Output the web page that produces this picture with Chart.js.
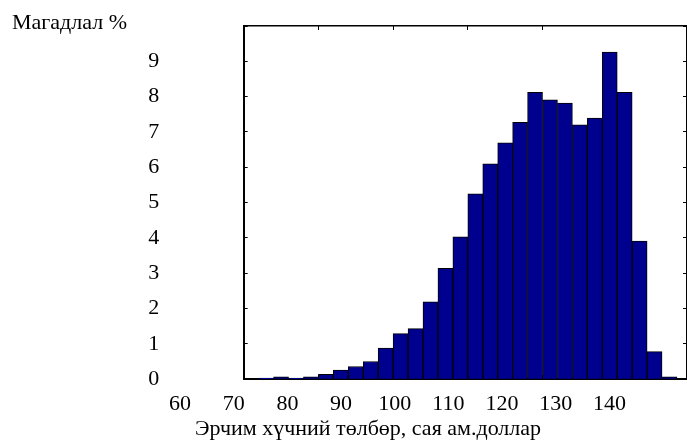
<!DOCTYPE html>
<html>
<head>
<meta charset="utf-8">
<script src="https://cdn.jsdelivr.net/npm/chart.js@4/dist/chart.umd.min.js"></script>
<style>
  html, body { margin: 0; padding: 0; background: #fff; }
  canvas { display: block; }
</style>
</head>
<body>
<canvas id="c" width="687" height="447"></canvas>
<script>
// ---- data ----
const binCenters = [1.5, 2.5, 3.5, 4.5, 5.5, 6.5, 7.5, 8.5, 9.5, 10.5, 11.5, 12.5, 13.5, 14.5,
                    15.5, 16.5, 17.5, 18.5, 19.5, 20.5, 21.5, 22.5, 23.5, 24.5, 25.5, 26.5, 27.5, 28.5];
const probability = [0.03, 0.07, 0.03, 0.07, 0.14, 0.26, 0.36, 0.50, 0.88, 1.29, 1.43, 2.19, 3.14, 4.03,
                     5.25, 6.10, 6.69, 7.27, 8.12, 7.91, 7.82, 7.20, 7.39, 9.26, 8.12, 3.91, 0.78, 0.07];
const xTickLabels = [60, 70, 80, 90, 100, 110, 120, 130, 140];
const yTickLabels = ['0', '1', '2', '3', '4', '5', '6', '7', '8', '9'];
const yAxisLabel = 'Магадлал %';
const xAxisLabel = 'Эрчим хүчний төлбөр, сая ам.доллар';

Chart.defaults.font.family = "'Liberation Serif', 'Times New Roman', serif";
Chart.defaults.font.size = 22;
Chart.defaults.color = '#000';

const inwardGrid = { drawOnChartArea: false, drawTicks: true, tickLength: -4, tickColor: '#000', tickWidth: 1, offset: false };

new Chart(document.getElementById('c'), {
  type: 'bar',
  data: {
    datasets: [{
      data: binCenters.map((x, i) => ({ x: x, y: probability[i] })),
      backgroundColor: '#00008F',
      borderColor: '#000',
      borderWidth: 1,
      barPercentage: 1,
      categoryPercentage: 1,
      xAxisID: 'x',
      yAxisID: 'y'
    }]
  },
  options: {
    responsive: false,
    animation: false,
    layout: { padding: { left: 12, right: -37, top: 0, bottom: 4.6 } },
    plugins: {
      legend: { display: false },
      tooltip: { enabled: false },
      title: {
        display: true, text: yAxisLabel, align: 'start', color: '#000',
        font: { size: 22, weight: 'normal', lineHeight: 1 },
        padding: { top: 12, bottom: -8 }
      },
      subtitle: {
        display: true, text: xAxisLabel, position: 'bottom', align: 'center', color: '#000',
        font: { size: 22, weight: 'normal', lineHeight: 1.2 },
        padding: { top: 0.8, bottom: 0 }
      }
    },
    scales: {
      x: {
        type: 'linear', position: 'bottom', min: 0, max: 29.67, weight: 0, bounds: 'data', offset: false,
        ticks: { display: false, stepSize: 5 },
        grid: inwardGrid,
        border: { display: true, color: '#000', width: 2 },
        afterFit(s) { s.height = 0; }
      },
      xl: {
        type: 'linear', position: 'bottom', min: 71.86, max: 154.45, weight: 1, bounds: 'data', offset: false,
        grid: { display: false, drawTicks: false, offset: false },
        border: { display: false },
        ticks: { autoSkip: false, maxRotation: 0, minRotation: 0, padding: 11.6, color: '#000',
                 callback: (v) => String(v) },
        afterBuildTicks(s) { s.ticks = xTickLabels.map(v => ({ value: v })); },
        afterFit(s) { s.height = 36; s.paddingLeft = 0; s.paddingRight = 0; }
      },
      x2: {
        type: 'linear', position: 'top', min: 0, max: 29.67, bounds: 'data', offset: false,
        ticks: { display: false, stepSize: 5 },
        grid: inwardGrid,
        border: { display: true, color: '#000', width: 1.5 },
        afterFit(s) { s.height = 0; }
      },
      y: {
        type: 'linear', position: 'left', min: 0, max: 10, bounds: 'data',
        ticks: { stepSize: 1, padding: 88.4, color: '#000',
                 callback: (v, i) => (yTickLabels[i] !== undefined ? yTickLabels[i] : '') },
        grid: inwardGrid,
        border: { display: true, color: '#000', width: 2 },
        afterFit(s) { s.width = 231.7; s.paddingTop = 0; s.paddingBottom = 0; }
      },
      y2: {
        type: 'linear', position: 'right', min: 0, max: 10, bounds: 'data',
        ticks: { display: false, stepSize: 1 },
        grid: inwardGrid,
        border: { display: true, color: '#000', width: 1.5 },
        afterFit(s) { s.width = 37; s.paddingTop = 0; s.paddingBottom = 0; }
      }
    }
  }
});
</script>
</body>
</html>
